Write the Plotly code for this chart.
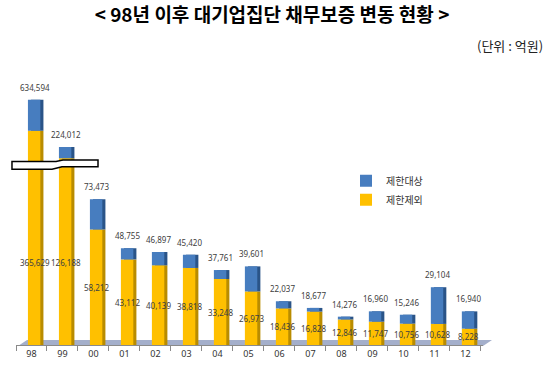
import plotly.graph_objects as go

# ---------------- data ----------------
years = ['98', '99', '00', '01', '02', '03', '04', '05', '06', '07', '08', '09', '10', '11', '12']
total = [634594, 224012, 73473, 48755, 46897, 45420, 37761, 39601, 22037, 18677, 14276, 16960, 15246, 29104, 16940]
excluded = [365629, 126188, 58212, 43112, 40139, 38818, 33248, 26973, 18436, 16828, 12846, 11747, 10756, 10628, 8228]
series_names = ['제한대상', '제한제외']
title_text = '< 98년 이후 대기업집단 채무보증 변동 현황 >'
unit_text = '(단위 : 억원)'

subject = [t - e for t, e in zip(total, excluded)]

# ---------------- layout geometry ----------------
W, H = 550, 372
L, R, T, B = 16, 67, 80, 25
PW, PH = W - L - R, H - T - B
BREAK_PX = 162
d1 = (H - B - BREAK_PX) / PH
low_range = [0, 92500]
up_range = [100000, 807000]

def px2paper(x, y):
    return (x - L) / PW, (H - B - y) / PH

def path_from_px(pts):
    s = ''
    for i, (x, y) in enumerate(pts):
        px, py = px2paper(x, y)
        s += ('M' if i == 0 else 'L') + f'{px:.4f},{py:.4f} '
    return s + 'Z'

YEL, YEL_D = '#FFC000', '#B98C00'
BLU, BLU_D = '#477DBF', '#2A5488'
OFF, BW = -0.115, 0.4
SIDE = 0.1

fig = go.Figure()
for yax in ['y', 'y2']:
    # side (depth) faces
    fig.add_bar(x=years, y=excluded, base=0, offset=OFF + SIDE, width=BW,
                marker=dict(color=YEL_D, line=dict(width=0)), yaxis=yax,
                showlegend=False, hoverinfo='skip')
    fig.add_bar(x=years, y=subject, base=excluded, offset=OFF + SIDE, width=BW,
                marker=dict(color=BLU_D, line=dict(width=0)), yaxis=yax,
                showlegend=False, hoverinfo='skip')
    # front faces
    fig.add_bar(x=years, y=excluded, base=0, offset=OFF, width=BW, name=series_names[1],
                marker=dict(color=YEL, line=dict(width=0)), yaxis=yax,
                showlegend=(yax == 'y'), legendrank=2)
    fig.add_bar(x=years, y=subject, base=excluded, offset=OFF, width=BW, name=series_names[0],
                marker=dict(color=BLU, line=dict(width=0)), yaxis=yax,
                showlegend=(yax == 'y'), legendrank=1)

annotations = []
lab_font = dict(family='Noto Sans, DejaVu Sans', size=8, color='#404040')
for i, (t, e) in enumerate(zip(total, excluded)):
    annotations.append(dict(x=i + 0.1, y=t, xref='x', yref='y2' if t > low_range[1] else 'y',
                            text=f'{t:,}', showarrow=False, yanchor='bottom', yshift=5,
                            font=lab_font))
    annotations.append(dict(x=i + 0.1, y=min(e / 2, 0.45 * low_range[1]), xref='x', yref='y',
                            text=f'{e:,}', showarrow=False, yanchor='middle',
                            font=lab_font))

ux, uy = px2paper(545, 45)
annotations.append(dict(x=ux, y=uy, xref='paper', yref='paper', text=unit_text,
                        showarrow=False, xanchor='right', yanchor='middle',
                        font=dict(family='Noto Sans CJK KR', size=13, color='#222')))

shapes = [
    # floor
    dict(type='path', xref='paper', yref='paper', layer='below',
         path=path_from_px([(18, 348), (483, 348), (492, 342), (27, 342)]),
         fillcolor='#A4AFCB', line=dict(width=0)),
    # axis break marker
    dict(type='path', xref='paper', yref='paper', layer='above',
         path=path_from_px([(12, 162), (56, 162), (63, 160.5), (98, 160.5), (98, 167.5),
                            (62, 167.5), (52, 170), (12, 170)]),
         fillcolor='white', line=dict(color='black', width=1.5)),
]

lx, ly = px2paper(346, 167)
fig.update_layout(
    width=W, height=H,
    margin=dict(l=L, r=R, t=T, b=B),
    paper_bgcolor='white', plot_bgcolor='white',
    barmode='overlay',
    title=dict(text=title_text, x=272 / W, xanchor='center', y=1 - 15 / H, yanchor='middle',
               font=dict(family='Noto Sans CJK KR', size=19, color='black', weight='bold')),
    xaxis=dict(type='category', anchor='y', showgrid=False, zeroline=False,
               showline=True, linecolor='#8A8A8A', linewidth=1,
               ticks='outside', tickson='boundaries', ticklen=5, tickcolor='#8A8A8A',
               tickfont=dict(family='Noto Sans, DejaVu Sans', size=9, color='#333')),
    yaxis=dict(domain=[0, d1], range=low_range, visible=False, fixedrange=True),
    yaxis2=dict(domain=[d1, 1], range=up_range, visible=False, fixedrange=True),
    legend=dict(x=lx, y=ly, xanchor='left', yanchor='top', bgcolor='rgba(0,0,0,0)',
                itemwidth=30, font=dict(family='Noto Sans CJK KR', size=10, color='#333'),
                tracegroupgap=4),
    annotations=annotations,
    shapes=shapes,
)

fig.write_html('out.html', config={'displayModeBar': False},
               post_script="document.body.style.margin='0px';")
